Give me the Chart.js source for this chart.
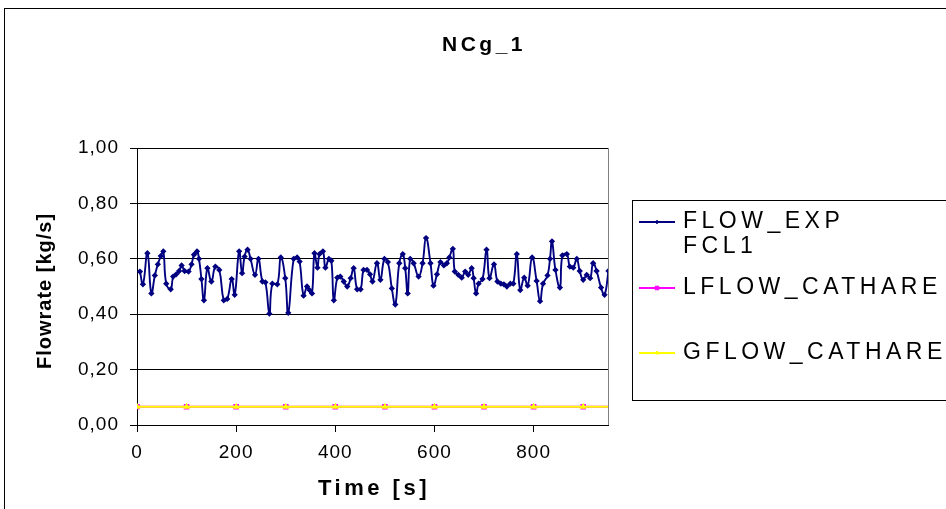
<!DOCTYPE html>
<html>
<head>
<meta charset="utf-8">
<title>NCg_1</title>
<script src="https://cdn.jsdelivr.net/npm/chart.js@4.4.1/dist/chart.umd.min.js"></script>
<style>
html, body { margin: 0; padding: 0; background: #fff; }
#wrap { width: 946px; height: 509px; position: relative; }
</style>
</head>
<body>
<div id="wrap"><canvas id="flow-chart" width="946" height="509"></canvas></div>
<script>
// Teksty wykresu
const chartTitle = 'NCg_1';
const xTitle = 'Time [s]';
const yTitle = 'Flowrate [kg/s]';
const seriesLabels = ['FLOW_EXP FCL1', 'LFLOW_CATHARE', 'GFLOW_CATHARE'];

// Podziałki osi
const xTicks = [0, 200, 400, 600, 800];
const yTicks = [0, 0.2, 0.4, 0.6, 0.8, 1.0];

// Pomiar
const expTime = [6, 12, 21, 29, 36, 42, 48, 53, 59, 68, 73, 79, 85, 90, 96, 104, 110, 115, 121, 125,
    130, 135, 142, 150, 158, 166, 175, 182, 191, 197, 206, 212, 217, 223, 229, 238, 245, 253, 259, 267,
    273, 283, 290, 299, 305, 316, 323, 328, 336, 343, 348, 353, 358, 364, 368, 375, 380, 387, 392, 397,
    404, 410, 417, 424, 431, 437, 444, 451, 457, 464, 470, 475, 484, 491, 499, 506, 514, 521, 529, 536,
    541, 546, 551, 558, 568, 576, 583, 592, 598, 605, 612, 619, 625, 630, 637, 641, 648, 655, 662, 668,
    675, 679, 684, 689, 697, 705, 711, 720, 727, 734, 740, 746, 753, 759, 766, 773, 781, 788, 797, 806,
    813, 819, 828, 833, 837, 844, 853, 858, 867, 873, 880, 887, 893, 900, 907, 914, 920, 927, 936, 943, 951];
const expFlow = [0.554, 0.508, 0.620, 0.475, 0.540, 0.580, 0.610, 0.627, 0.510, 0.490, 0.536, 0.544, 0.556, 0.576, 0.556, 0.554, 0.580, 0.615, 0.627, 0.600,
    0.527, 0.450, 0.566, 0.518, 0.572, 0.560, 0.450, 0.455, 0.527, 0.470, 0.627, 0.548, 0.608, 0.633, 0.600, 0.542, 0.600, 0.518, 0.515, 0.402,
    0.510, 0.508, 0.605, 0.530, 0.405, 0.600, 0.605, 0.590, 0.467, 0.500, 0.487, 0.475, 0.620, 0.568, 0.617, 0.627, 0.568, 0.600, 0.593, 0.450,
    0.532, 0.536, 0.518, 0.500, 0.530, 0.566, 0.490, 0.490, 0.560, 0.560, 0.544, 0.518, 0.584, 0.524, 0.600, 0.588, 0.493, 0.435, 0.584, 0.617,
    0.566, 0.475, 0.600, 0.584, 0.536, 0.584, 0.675, 0.584, 0.503, 0.544, 0.588, 0.576, 0.584, 0.605, 0.636, 0.554, 0.542, 0.532, 0.554, 0.542,
    0.566, 0.530, 0.475, 0.510, 0.527, 0.633, 0.530, 0.580, 0.518, 0.510, 0.508, 0.500, 0.510, 0.510, 0.617, 0.487, 0.532, 0.503, 0.605, 0.520,
    0.447, 0.510, 0.540, 0.600, 0.663, 0.560, 0.496, 0.612, 0.617, 0.572, 0.568, 0.600, 0.556, 0.524, 0.542, 0.530, 0.584, 0.556, 0.496, 0.470, 0.556];

// Obliczenia CATHARE
const cathareTime = [0, 100, 200, 300, 400, 500, 600, 700, 800, 900, 1000];
const lflowCathare = [0.066, 0.066, 0.066, 0.066, 0.066, 0.066, 0.066, 0.066, 0.066, 0.066, 0.066];
const gflowCathare = [0.066, 0.066, 0.066, 0.066, 0.066, 0.066, 0.066, 0.066, 0.066, 0.066, 0.066];

const pairs = (xs, ys) => xs.map((x, i) => ({ x: x, y: ys[i] }));

// Tytuły i legenda rysowane ręcznie (rozstrzelone litery jak w Excelu)
const excelLook = {
    id: 'excelLook',
    beforeDraw(chart) {
        chart.ctx.letterSpacing = '1px';
    },
    afterDraw(chart) {
        const ctx = chart.ctx;
        const a = chart.chartArea;
        ctx.save();

        // prawa krawędź obszaru wykresu
        ctx.strokeStyle = '#808080';
        ctx.lineWidth = 1;
        ctx.beginPath();
        ctx.moveTo(Math.round(a.right) + 0.5, a.top);
        ctx.lineTo(Math.round(a.right) + 0.5, a.bottom);
        ctx.stroke();

        // ramka całego wykresu
        ctx.strokeStyle = '#000';
        ctx.strokeRect(4.5, 8.5, 1000, 600);

        ctx.fillStyle = '#000';
        ctx.textBaseline = 'middle';
        ctx.textAlign = 'center';

        // tytuł
        ctx.font = 'bold 21px "Liberation Sans", Arial, sans-serif';
        ctx.letterSpacing = '3.5px';
        ctx.fillText(chartTitle, 484, 45);

        // tytuł osi X
        ctx.font = 'bold 22px "Liberation Sans", Arial, sans-serif';
        ctx.letterSpacing = '3.5px';
        ctx.fillText(xTitle, 374, 489);

        // tytuł osi Y
        ctx.save();
        ctx.translate(45, 291);
        ctx.rotate(-Math.PI / 2);
        ctx.font = 'bold 20px "Liberation Sans", Arial, sans-serif';
        ctx.letterSpacing = '1px';
        ctx.fillText(yTitle, 0, 0);
        ctx.restore();

        // legenda
        ctx.strokeStyle = '#000';
        ctx.lineWidth = 1;
        ctx.strokeRect(632.5, 200.5, 400, 200);
        const rows = [222, 288, 353];
        ctx.textAlign = 'left';
        ctx.font = '23px "Liberation Sans", Arial, sans-serif';
        ctx.letterSpacing = '4.5px';
        chart.data.datasets.forEach((ds, i) => {
            const y = rows[i];
            ctx.strokeStyle = ds.borderColor;
            ctx.lineWidth = 2;
            ctx.beginPath();
            ctx.moveTo(639, y);
            ctx.lineTo(675, y);
            ctx.stroke();
            ctx.fillStyle = ds.pointBackgroundColor;
            ctx.strokeStyle = ds.pointBorderColor;
            ctx.lineWidth = 1;
            Chart.helpers.drawPoint(ctx, { pointStyle: ds.pointStyle, radius: ds.pointRadius, rotation: 0, borderWidth: 1 }, 657, y);
            ctx.fillStyle = '#000';
            const lines = ds.label.split(' ');
            lines.forEach((t, k) => ctx.fillText(t, 683, y + k * 25));
        });

        ctx.restore();
    }
};

const flowChart = new Chart(document.getElementById('flow-chart'), {
    type: 'line',
    data: {
        datasets: [{
            label: seriesLabels[0],
            data: pairs(expTime, expFlow),
            borderColor: '#000080',
            backgroundColor: '#000080',
            pointBackgroundColor: '#000080',
            pointBorderColor: '#000080',
            pointStyle: 'rectRot',
            pointRadius: 1.8,
            borderWidth: 1.9,
            tension: 0.45,
            order: 2
        }, {
            label: seriesLabels[1],
            data: pairs(cathareTime, lflowCathare),
            borderColor: '#ff00ff',
            backgroundColor: '#ff00ff',
            pointBackgroundColor: '#ff00ff',
            pointBorderColor: '#ff00ff',
            pointStyle: 'rect',
            pointRadius: 2.5,
            borderWidth: 2,
            order: 1
        }, {
            label: seriesLabels[2],
            data: pairs(cathareTime, gflowCathare),
            borderColor: '#ffff00',
            backgroundColor: '#ffff00',
            pointBackgroundColor: '#ffff00',
            pointBorderColor: '#ffff00',
            pointStyle: 'triangle',
            pointRadius: 2,
            borderWidth: 2,
            order: 0
        }]
    },
    options: {
        responsive: false,
        animation: false,
        events: [],
        layout: { padding: { top: 148, right: 338, left: 0, bottom: 0 } },
        plugins: {
            legend: { display: false },
            title: { display: false },
            tooltip: { enabled: false }
        },
        scales: {
            x: {
                type: 'linear',
                min: 0,
                max: 950,
                afterFit: s => { s.height = 84; },
                afterBuildTicks: s => { s.ticks = xTicks.map(v => ({ value: v })); },
                ticks: {
                    color: '#000',
                    font: { family: '"Liberation Sans", Arial, sans-serif', size: 19 },
                    padding: 9,
                    maxRotation: 0,
                    autoSkip: false
                },
                grid: { drawOnChartArea: false, drawTicks: true, tickLength: 7, color: '#000' },
                border: { display: true, color: '#000' }
            },
            y: {
                min: 0,
                max: 1,
                afterFit: s => { s.width = 137; },
                afterBuildTicks: s => { s.ticks = yTicks.map(v => ({ value: v })); },
                ticks: {
                    color: '#000',
                    font: { family: '"Liberation Sans", Arial, sans-serif', size: 19 },
                    padding: 11,
                    callback: v => v.toFixed(2).replace('.', ',')
                },
                grid: { color: '#000', lineWidth: 1, drawTicks: true, tickLength: 7 },
                border: { display: true, color: '#000' }
            }
        }
    },
    plugins: [excelLook]
});
</script>
</body>
</html>
